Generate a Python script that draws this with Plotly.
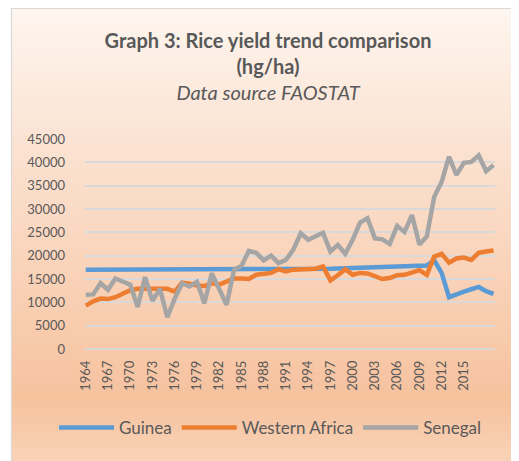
import plotly.graph_objects as go

years = list(range(1964, 2020))
tick_years = [1964, 1967, 1970, 1973, 1976, 1979, 1982, 1985, 1988, 1991,
              1994, 1997, 2000, 2003, 2006, 2009, 2012, 2015]
tick_labels = [str(y) for y in tick_years]

guinea = [17000, 17000, 17000, 17000, 17000, 17000, 17000, 17000, 17000, 17000,
          17000, 17000, 17000, 17000, 17000, 17000, 17000, 17000, 17000, 17000,
          17100, 17100, 17100, 17100, 17100, 17100, 17100, 17100, 17100, 17100,
          17100, 17100, 17150, 17200, 17250, 17300, 17350, 17400, 17450, 17500,
          17550, 17600, 17650, 17700, 17750, 17800, 17900, 19000, 16300, 11100,
          11800, 12300, 12800, 13300, 12400, 11800]

western_africa = [9300, 10200, 10800, 10700, 11100, 11800, 12600, 12900, 12900, 13100,
                  13000, 12900, 12300, 14200, 14000, 13600, 13500, 14100, 13800, 14400,
                  15100, 15100, 15000, 15900, 16200, 16300, 17100, 16600, 17000, 17100,
                  17100, 17200, 17700, 14700, 15800, 17100, 15900, 16300, 16200, 15600,
                  15000, 15200, 15800, 15900, 16400, 16900, 15900, 19800, 20400, 18500,
                  19400, 19600, 19100, 20600, 20900, 21100]

senegal = [11600, 11700, 14100, 12700, 15100, 14400, 13800, 9000, 15400, 10300,
           12900, 6800, 10800, 14100, 13400, 14400, 9800, 16200, 13000, 9500,
           17000, 17800, 21000, 20600, 19000, 20000, 18400, 19100, 21300, 24800,
           23400, 24200, 24900, 20900, 22300, 20400, 23400, 27100, 28000, 23700,
           23500, 22500, 26400, 25100, 28700, 22400, 24100, 32600, 35800, 41200,
           37300, 39900, 40100, 41500, 38100, 39400]

series_names = ["Guinea", "Western Africa", "Senegal"]
series_colors = ["#5B9BD5", "#ED7D31", "#A5A5A5"]

# the page body has an 8px margin, so figure coords = page coords - 8
OFF = 8
W, H = 511, 453
ML, MR, MT, MB = 77, 24, 131, 112
PW, PH = W - ML - MR, H - MT - MB


def px_x(p):
    return (p - OFF - ML) / PW


def px_y(p):
    return (H - MB - (p - OFF)) / PH


def hex2rgb(h):
    h = h.lstrip("#")
    return [int(h[i:i + 2], 16) for i in (0, 2, 4)]


stops = [(7, "#FEF6EF"), (140, "#FBE3D3"), (270, "#F9D3B9"), (400, "#F6C29E"), (461, "#F9D3B7")]


def color_at(p):
    for (p0, c0), (p1, c1) in zip(stops[:-1], stops[1:]):
        if p0 <= p <= p1:
            t = (p - p0) / (p1 - p0)
            a, b = hex2rgb(c0), hex2rgb(c1)
            return "rgb(%d,%d,%d)" % tuple(round(a[i] + (b[i] - a[i]) * t) for i in range(3))
    return stops[-1][1]


shapes = []
band = 4
p = 8
while p < 461:
    q = min(p + band, 463)
    shapes.append(dict(type="rect", xref="paper", yref="paper", layer="below",
                       x0=px_x(11), x1=px_x(530), y0=px_y(q + 0.5), y1=px_y(p),
                       line=dict(width=0), fillcolor=color_at(p + band / 2)))
    p = q
shapes.append(dict(type="rect", xref="paper", yref="paper", layer="below",
                   x0=px_x(11.5), x1=px_x(540), y0=px_y(480), y1=px_y(8.5),
                   line=dict(width=1.2, color="#D9D9D9"), fillcolor="rgba(0,0,0,0)"))

fig = go.Figure()
for name, vals, col in zip(series_names, [guinea, western_africa, senegal], series_colors):
    fig.add_trace(go.Scatter(x=years, y=vals, mode="lines", name=name,
                             line=dict(color=col, width=4.5)))

fig.update_layout(
    width=W, height=H,
    margin=dict(l=ML, r=MR, t=MT, b=MB),
    paper_bgcolor="white",
    plot_bgcolor="rgba(0,0,0,0)",
    font=dict(family="Lato", color="#595959"),
    title=dict(text="<b>Graph 3: Rice yield trend comparison<br>(hg/ha)</b><br><i>Data source FAOSTAT</i>",
               x=(268 - OFF) / W, xanchor="center", xref="container",
               y=1 - 40 / H, yanchor="top", yref="container",
               font=dict(size=20, color="#595959", family="Lato")),
    shapes=shapes,
    showlegend=True,
    legend=dict(orientation="h", x=px_x(54), xanchor="left", y=px_y(428), yanchor="middle",
                itemwidth=55, font=dict(size=17, color="#595959"), bgcolor="rgba(0,0,0,0)"),
)
fig.update_xaxes(range=[1963.9, 2019.2], tickvals=tick_years, ticktext=tick_labels,
                 tickangle=-90, showgrid=False, zeroline=False, showline=False,
                 ticks="", tickfont=dict(size=13, color="#595959"), ticklabelstandoff=8)
fig.update_yaxes(range=[0, 45000], dtick=5000, showgrid=True, gridcolor="#D9D9D9", gridwidth=1.5,
                 zeroline=True, zerolinecolor="#D9D9D9", zerolinewidth=1.5, showline=False,
                 ticks="", tickformat="d", tickfont=dict(size=13, color="#595959"), ticklabelstandoff=19)

fig.write_html("out.html")
